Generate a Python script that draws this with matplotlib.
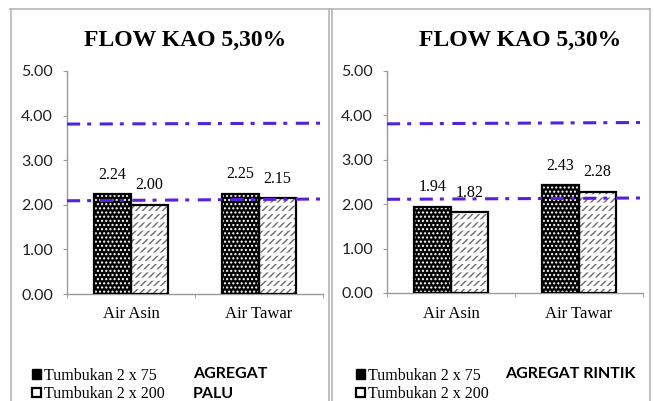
import matplotlib.pyplot as plt
import numpy as np
from matplotlib.lines import Line2D
from matplotlib.patches import Patch

categories = ['Air Asin', 'Air Tawar']
series_labels = ['Tumbukan 2 x 75', 'Tumbukan 2 x 200']
title = 'FLOW KAO 5,30%'
yticks = [0, 1, 2, 3, 4, 5]

# agregat palu
palu_2x75 = [2.24, 2.25]
palu_2x200 = [2.00, 2.15]
palu_upper = [3.81, 3.83]
palu_lower = [2.09, 2.13]

# agregat rintik
rintik_2x75 = [1.94, 2.43]
rintik_2x200 = [1.82, 2.28]
rintik_upper = [3.81, 3.84]
rintik_lower = [2.11, 2.14]

W, H = 654, 401
SERIF = 'Liberation Serif'
SANS = 'Lato'
LIMIT_COLOR = '#5322D9'
GRAY = '#9a9a9a'


def fx(px):
    return px / W


def fy(py):
    return 1 - py / H


def panel(fig, left, zero, a, b, upper, lower, title_x, leg_x, tag_x, tags):
    ax = fig.add_axes([fx(left), fy(zero), 256 / W, (zero - 71) / H])
    x = np.arange(len(categories))
    w = 0.29

    # dotted black bars, then outline
    ax.bar(x - w / 2, a, w, color='black', edgecolor='white', hatch='....', lw=0, zorder=2)
    ax.bar(x - w / 2, a, w, fill=False, edgecolor='black', lw=1.6, zorder=3)
    # white bars with broken diagonal hatch
    ax.bar(x + w / 2, b, w, color='white', edgecolor='#6a6a6a', hatch='/////', lw=0, zorder=2)
    breaks = ax.bar(x + w / 2, b, w, fill=False, edgecolor='white', hatch='--', lw=0, zorder=2.5)
    for p in breaks:
        if hasattr(p, 'set_hatch_linewidth'):
            p.set_hatch_linewidth(2.2)
    ax.bar(x + w / 2, b, w, fill=False, edgecolor='black', lw=1.6, zorder=3)

    for xs, vals in ((x - w / 2, a), (x + w / 2, b)):
        for xi, v in zip(xs, vals):
            ax.annotate(f'{v:.2f}', (xi, v), xytext=(0, 14), textcoords='offset points',
                        ha='center', va='center', fontfamily=SERIF, fontsize=11.5)

    for vals in (upper, lower):
        ax.plot([-0.5, 1.5], vals, color=LIMIT_COLOR, lw=2.2, dashes=(4.3, 2.3, 1.3, 2.8),
                dash_capstyle='butt', zorder=5, clip_on=False)

    ax.set_xlim(-0.5, 1.5)
    ax.set_ylim(0, 5)
    ax.set_yticks(yticks)
    ax.set_yticklabels([f'{t:.2f}' for t in yticks], fontfamily=SANS, fontsize=11.5, color='#222222')
    ax.set_xticks(x)
    ax.set_xticklabels(categories, fontfamily=SERIF, fontsize=12)
    ax.set_xticks([-0.5, 0.5, 1.5], minor=True)
    ax.tick_params(axis='x', which='major', length=0, pad=9)
    ax.tick_params(axis='x', which='minor', length=3, color=GRAY, direction='out')
    ax.tick_params(axis='y', length=3, color=GRAY, pad=7)
    for s in ('top', 'right'):
        ax.spines[s].set_visible(False)
    for s in ('left', 'bottom'):
        ax.spines[s].set_color(GRAY)
        ax.spines[s].set_linewidth(1)
    ax.set_facecolor('none')

    fig.text(fx(title_x), fy(40), title, ha='center', va='center', fontfamily=SERIF,
             fontweight='bold', fontsize=17)

    handles = [Patch(facecolor='black', edgecolor='black', lw=1),
               Patch(facecolor='white', edgecolor='black', lw=1.6)]
    fig.legend(handles, series_labels, loc='center left', bbox_to_anchor=(fx(leg_x), fy(385)),
               frameon=False, prop={'family': SERIF, 'size': 11.5}, handlelength=0.55,
               handleheight=0.55, handletextpad=0.2, labelspacing=0.15, borderpad=0,
               borderaxespad=0)
    for i, t in enumerate(tags):
        fig.text(fx(tag_x), fy(374 + 20 * i), t, ha='left', va='center', fontfamily=SANS,
                 fontweight='bold', fontsize=11.5)
    return ax


fig = plt.figure(figsize=(W / 100, H / 100), dpi=100)

# table borders around the two charts
frame = dict(color='#b5b5b5', lw=1.2, transform=fig.transFigure)
fig.add_artist(Line2D([fx(10), fx(650)], [fy(8.5), fy(8.5)], **frame))
for px in (10.5, 329, 332, 650):
    fig.add_artist(Line2D([fx(px), fx(px)], [fy(8.5), 0], **frame))

panel(fig, 67, 294, palu_2x75, palu_2x200, palu_upper, palu_lower, 185, 32, 193,
      ['AGREGAT', 'PALU'])
panel(fig, 387, 293, rintik_2x75, rintik_2x200, rintik_upper, rintik_lower, 520, 356, 505,
      ['AGREGAT RINTIK'])

fig.savefig('out.png', dpi=100)
